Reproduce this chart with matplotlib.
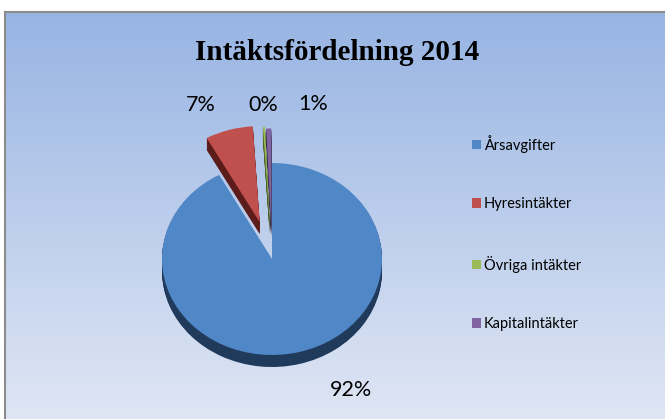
import numpy as np
import matplotlib
matplotlib.use("Agg")
import matplotlib.pyplot as plt
from matplotlib.colors import LinearSegmentedColormap

# ===================== DADOS =====================
kategorier = ["Årsavgifter", "Hyresintäkter", "Övriga intäkter", "Kapitalintäkter"]
andelar = [92.0, 7.0, 0.3, 0.7]
titel = "Intäktsfördelning 2014"

farger = ["#5087c6", "#c0504d", "#9bbb59", "#8064a2"]
sidfarger = ["#203a5c", "#5c1c1a", "#4a5e26", "#3e2f55"]
explode = [0.0, 0.40, 0.38, 0.36]

# label positions (data units, pie centre = 0,0)
etikett_xy = [(0.72, -1.365), (-0.645, 1.60), (-0.082, 1.60), (0.373, 1.61)]

W, H = 665, 419
cx, cy = 272, 259         # pie centre in pixels (from top)
sx, sy = 110.0, 96.0      # pixels per data unit in x / y
djup = 12.0 / sy          # depth of the 3D side

fig = plt.figure(figsize=(W / 100, H / 100), dpi=100)

# ===================== BAKGRUND =====================
bg = fig.add_axes([5 / W, 0, 1 - 5 / W, (H - 12) / H])
cmap = LinearSegmentedColormap.from_list("bg", ["#97b4e3", "#dfe6f4"])
grad = np.linspace(0, 1, 256).reshape(-1, 1)
bg.imshow(grad, aspect="auto", cmap=cmap, extent=[0, 1, 0, 1], origin="upper")
bg.set_xticks([])
bg.set_yticks([])
for s in ["right", "bottom"]:
    bg.spines[s].set_visible(False)
for s in ["top", "left"]:
    bg.spines[s].set_color("#8c8c8c")
    bg.spines[s].set_linewidth(1.5)

# ===================== PAJ =====================
ax = fig.add_axes([0, 0, 1, 1])
ax.patch.set_alpha(0)

# side (depth) drawn as stacked dark copies
n = 14
for k in range(n, 0, -1):
    ax.pie(andelar, colors=sidfarger, explode=explode, startangle=90,
           counterclock=False, center=(0, -djup * k / n),
           wedgeprops=dict(linewidth=0))

wedges, _ = ax.pie(andelar, colors=farger, explode=explode, startangle=90,
                   counterclock=False, center=(0, 0),
                   wedgeprops=dict(linewidth=0))

ax.set_aspect("auto")
ax.set_xlim(-cx / sx, (W - cx) / sx)
ax.set_ylim(-(H - cy) / sy, cy / sy)
ax.axis("off")

for v, (x, y) in zip(andelar, etikett_xy):
    ax.text(x, y, f"{v:.0f}%", ha="center", va="center",
            fontsize=15.5, family="Lato", color="black")

# ===================== TITEL =====================
fig.text(337 / W, 1 - 52 / H, titel, ha="center", va="center",
         fontsize=21, fontweight="bold", family="Liberation Serif")

# ===================== LEGEND =====================
leg = ax.legend(wedges, kategorier, loc="center left",
                bbox_to_anchor=(472 / W, 1 - 233 / H),
                bbox_transform=fig.transFigure, frameon=False,
                prop=dict(family="Lato", size=10.5),
                handlelength=0.62, handleheight=0.62, handletextpad=0.2,
                labelspacing=3.05, borderpad=0, borderaxespad=0)

fig.savefig("out.png", dpi=100)
